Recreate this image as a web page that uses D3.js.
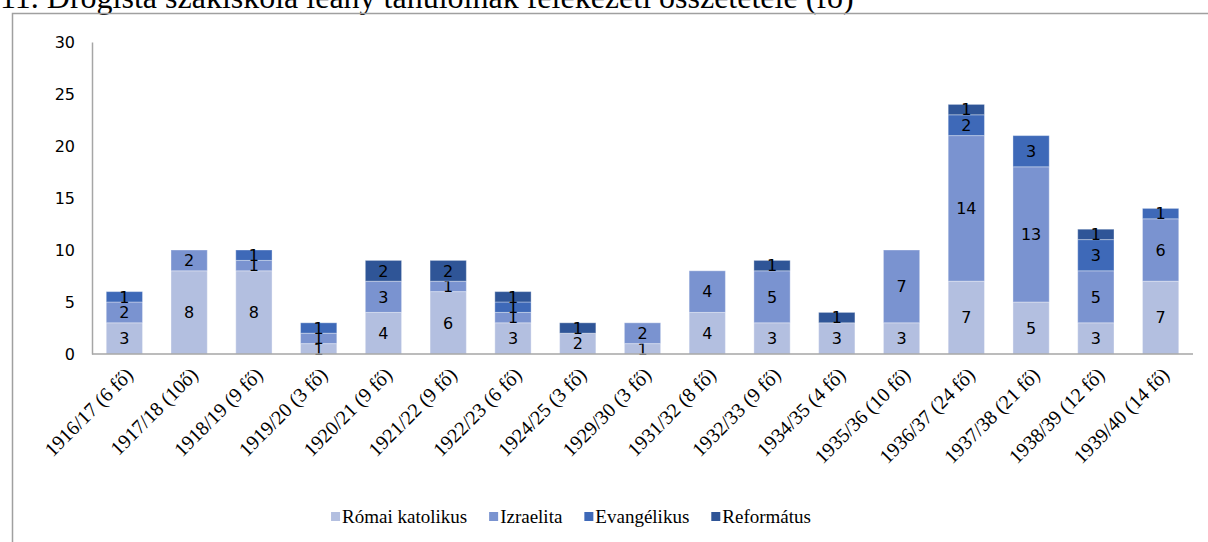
<!DOCTYPE html>
<html>
<head>
<meta charset="utf-8">
<script src="https://cdn.jsdelivr.net/npm/d3@7"></script>
<style>
  body { margin: 0; background: #fff; }
  svg { display: block; }
</style>
</head>
<body>
<svg id="chart" width="1208" height="542"></svg>
<script>
"use strict";
// values
const categories = ["1916/17 (6 fő)", "1917/18 (10ő)", "1918/19 (9 fő)", "1919/20 (3 fő)",
  "1920/21 (9 fő)", "1921/22 (9 fő)", "1922/23 (6 fő)", "1924/25 (3 fő)", "1929/30 (3 fő)",
  "1931/32 (8 fő)", "1932/33 (9 fő)", "1934/35 (4 fő)", "1935/36 (10 fő)", "1936/37 (24 fő)",
  "1937/38 (21 fő)", "1938/39 (12 fő)", "1939/40 (14 fő)"];
const seriesNames = ["Római katolikus", "Izraelita", "Evangélikus", "Református"];
const romaiKatolikus = [3, 8, 8, 1, 4, 6, 3, 2, 1, 4, 3, 3, 3, 7, 5, 3, 7];
const izraelita      = [2, 2, 1, 1, 3, 1, 1, 0, 2, 4, 5, 0, 7, 14, 13, 5, 6];
const evangelikus    = [1, 0, 1, 1, 0, 0, 1, 0, 0, 0, 0, 0, 0, 2, 3, 3, 1];
const reformatus     = [0, 0, 0, 0, 2, 2, 1, 1, 0, 0, 1, 1, 0, 1, 0, 1, 0];
const yTicks = [0, 5, 10, 15, 20, 25, 30];
const colors = ["#b3bfe0", "#7a93d0", "#3e69b8", "#2f5597"];
const title = "11. Drogista szakiskola leány tanulóinak felekezeti összetétele (fő)";

const serif = "'Liberation Serif', 'Times New Roman', serif";
const svg = d3.select("#chart");
const margin = { left: 92, right: 1193, top: 42, bottom: 354 };

// title, cut off at the top like in the picture
svg.append("text")
  .attr("x", 0)
  .attr("y", 8)
  .attr("font-family", serif)
  .attr("font-size", 32)
  .attr("fill", "#000")
  .text(title);

// chart frame (only left and top edges are visible)
svg.append("path")
  .attr("d", "M12.5,560V13.5H1210")
  .attr("fill", "none")
  .attr("stroke", "#a0a0a0")
  .attr("stroke-width", 1.5);

const rows = categories.map((c, i) => ({
  cat: c,
  [seriesNames[0]]: romaiKatolikus[i],
  [seriesNames[1]]: izraelita[i],
  [seriesNames[2]]: evangelikus[i],
  [seriesNames[3]]: reformatus[i]
}));
const stacked = d3.stack().keys(seriesNames)(rows);

const x = d3.scaleBand().domain(categories)
  .range([margin.left, margin.right]).paddingInner(0.44).paddingOuter(0.22);
const y = d3.scaleLinear().domain([0, 30]).range([margin.bottom, margin.top]);

// y axis
const yAxis = svg.append("g")
  .attr("transform", `translate(${margin.left},0)`)
  .call(d3.axisLeft(y).tickValues(yTicks).tickSize(0).tickPadding(17));
yAxis.select(".domain").attr("stroke", "#a6a6a6").attr("stroke-width", 1.5);
yAxis.selectAll("text")
  .attr("font-family", "DejaVu Sans")
  .attr("font-size", 16)
  .attr("fill", "#000");

// bars
const layers = svg.append("g").selectAll("g")
  .data(stacked)
  .join("g")
  .attr("fill", (d, i) => colors[i]);
layers.selectAll("rect")
  .data(d => d.filter(s => s[1] - s[0] > 0))
  .join("rect")
  .attr("x", d => x(d.data.cat))
  .attr("width", x.bandwidth())
  .attr("y", d => y(d[1]))
  .attr("height", d => y(d[0]) - y(d[1]))
  .attr("stroke", "#fff")
  .attr("stroke-opacity", 0.35)
  .attr("stroke-width", 1);

// value labels
layers.selectAll("text")
  .data(d => d.filter(s => s[1] - s[0] > 0))
  .join("text")
  .attr("x", d => x(d.data.cat) + x.bandwidth() / 2)
  .attr("y", d => (y(d[0]) + y(d[1])) / 2)
  .attr("dy", "0.36em")
  .attr("text-anchor", "middle")
  .attr("font-family", "DejaVu Sans")
  .attr("font-size", 16)
  .attr("fill", "#000")
  .text(d => d[1] - d[0]);

// x axis
const xAxis = svg.append("g")
  .attr("transform", `translate(0,${margin.bottom})`)
  .call(d3.axisBottom(x).tickSize(0).tickPadding(0));
xAxis.select(".domain").attr("stroke", "#a6a6a6").attr("stroke-width", 1.5)
  .attr("d", `M${margin.left},0H${margin.right}`);
xAxis.selectAll("text")
  .attr("font-family", serif)
  .attr("font-size", 20)
  .attr("fill", "#000")
  .attr("text-anchor", "end")
  .attr("dy", "0.35em")
  .attr("transform", "translate(5,17) rotate(-45)");

// legend
const legend = svg.append("g");
let lx = 0;
const items = legend.selectAll("g").data(seriesNames).join("g");
items.append("rect").attr("width", 9).attr("height", 9).attr("y", -11)
  .attr("fill", (d, i) => colors[i]);
items.append("text").attr("x", 11)
  .attr("font-family", serif)
  .attr("font-size", 19)
  .attr("fill", "#000")
  .text(d => d);
items.each(function () {
  d3.select(this).attr("transform", `translate(${lx},0)`);
  lx += 11 + d3.select(this).select("text").node().getComputedTextLength() + 22;
});
legend.attr("transform", `translate(${(337 + 805 - (lx - 22)) / 2},523)`);
</script>
</body>
</html>
